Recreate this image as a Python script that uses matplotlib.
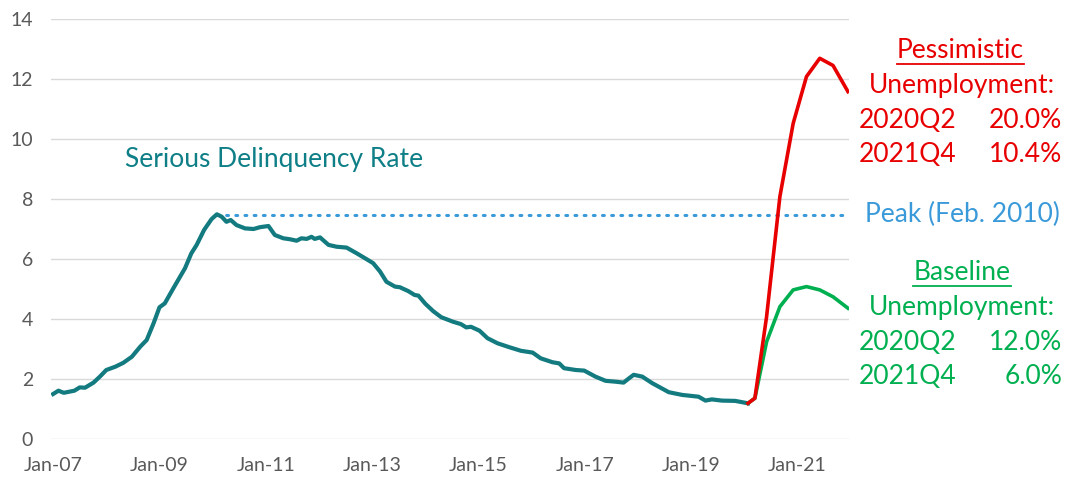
import matplotlib
matplotlib.use("Agg")
import matplotlib.pyplot as plt
from matplotlib.lines import Line2D

plt.rcParams['font.family'] = ['Lato', 'DejaVu Sans']

# serious delinquency rate (%), x in decimal years
hist_x = [2007.00, 2007.10, 2007.20, 2007.40, 2007.50, 2007.60, 2007.76, 2007.88,
          2008.00, 2008.17, 2008.32, 2008.48, 2008.64, 2008.76, 2008.89, 2009.00,
          2009.10, 2009.26, 2009.48, 2009.60, 2009.70, 2009.84, 2009.98, 2010.08,
          2010.17, 2010.26, 2010.34, 2010.45, 2010.61, 2010.77, 2010.89, 2011.05,
          2011.17, 2011.33, 2011.45, 2011.58, 2011.67, 2011.77, 2011.86, 2011.92,
          2012.02, 2012.18, 2012.33, 2012.52, 2012.71, 2012.90, 2013.02, 2013.15,
          2013.27, 2013.43, 2013.52, 2013.68, 2013.80, 2013.87, 2014.00, 2014.15,
          2014.30, 2014.52, 2014.67, 2014.77, 2014.86, 2015.02, 2015.17, 2015.36,
          2015.58, 2015.80, 2016.02, 2016.17, 2016.39, 2016.52, 2016.61, 2016.83,
          2016.99, 2017.20, 2017.39, 2017.58, 2017.73, 2017.83, 2017.92, 2018.08,
          2018.27, 2018.58, 2018.83, 2019.14, 2019.27, 2019.39, 2019.58, 2019.83,
          2020.07]
hist_y = [1.50, 1.61, 1.54, 1.61, 1.72, 1.71, 1.88, 2.08,
          2.30, 2.41, 2.54, 2.74, 3.08, 3.30, 3.86, 4.39,
          4.52, 5.02, 5.69, 6.19, 6.47, 6.97, 7.33, 7.49,
          7.41, 7.24, 7.30, 7.13, 7.02, 7.00, 7.06, 7.10,
          6.80, 6.69, 6.66, 6.61, 6.69, 6.67, 6.74, 6.67,
          6.72, 6.47, 6.41, 6.38, 6.19, 5.99, 5.86, 5.58,
          5.24, 5.08, 5.06, 4.93, 4.80, 4.78, 4.51, 4.26,
          4.06, 3.91, 3.83, 3.72, 3.74, 3.61, 3.36, 3.19,
          3.06, 2.94, 2.88, 2.69, 2.56, 2.52, 2.36, 2.30,
          2.28, 2.08, 1.94, 1.91, 1.88, 2.02, 2.14, 2.08,
          1.86, 1.56, 1.47, 1.41, 1.28, 1.32, 1.28, 1.27,
          1.19]

# projections (quarterly)
proj_x = [2020.07, 2020.20, 2020.42, 2020.67, 2020.92, 2021.17, 2021.42, 2021.67, 2021.95]
pess_y = [1.19, 1.36, 4.08, 8.08, 10.52, 12.08, 12.69, 12.45, 11.58]
base_y = [1.19, 1.36, 3.24, 4.41, 4.97, 5.08, 4.97, 4.74, 4.36]

peak_x = [2010.08, 2021.97]
peak_y = [7.47, 7.47]

tick_years = [2007, 2009, 2011, 2013, 2015, 2017, 2019, 2021]
tick_labels = ['Jan-07', 'Jan-09', 'Jan-11', 'Jan-13', 'Jan-15', 'Jan-17', 'Jan-19', 'Jan-21']

TEAL = '#137B80'
RED = '#E80000'
GREEN = '#00B050'
BLUE = '#3A9AD9'
GREY = '#595959'

W, H = 1066, 479
fig = plt.figure(figsize=(W / 100, H / 100), dpi=100)
ax = fig.add_axes([51 / W, 1 - 439 / H, 798 / W, 420 / H])

ax.plot(peak_x, peak_y, color=BLUE, lw=2.2, linestyle=(0, (0.6, 2.4)), dash_capstyle='round')
ax.plot(hist_x, hist_y, color=TEAL, lw=3.0, solid_joinstyle='round')
ax.plot(proj_x, base_y, color=GREEN, lw=2.6, solid_joinstyle='round')
ax.plot(proj_x, pess_y, color=RED, lw=2.6, solid_joinstyle='round')

ax.set_xlim(2006.96, 2021.97)
ax.set_ylim(0, 14)
ax.set_yticks(range(0, 15, 2))
ax.set_xticks(tick_years)
ax.set_xticklabels(tick_labels)
ax.tick_params(length=0, labelsize=14, colors=GREY)
ax.tick_params(axis='x', pad=13)
ax.tick_params(axis='y', pad=13)
ax.grid(axis='y', color='#D9D9D9', lw=1)
ax.set_axisbelow(True)
for s in ax.spines.values():
    s.set_visible(False)

ax.text(2008.36, 9.3, 'Serious Delinquency Rate', color='#0E7F87', fontsize=19, va='center')

# right side annotations (pixel positions)
def ftext(px, py, s, color, ha='center'):
    fig.text(px / W, 1 - py / H, s, color=color, fontsize=19, ha=ha, va='center')

def uline(x0, x1, py, color):
    fig.add_artist(Line2D([x0 / W, x1 / W], [1 - py / H, 1 - py / H], color=color, lw=1.3,
                          transform=fig.transFigure))

ftext(960, 50, 'Pessimistic', RED)
uline(897, 1024, 64, RED)
ftext(962, 85, 'Unemployment:', RED)
ftext(859, 120, '2020Q2', RED, 'left')
ftext(1062, 120, '20.0%', RED, 'right')
ftext(859, 154, '2021Q4', RED, 'left')
ftext(1062, 154, '10.4%', RED, 'right')

ftext(962, 214, 'Peak (Feb. 2010)', BLUE)

ftext(962, 272, 'Baseline', GREEN)
uline(913, 1011, 286, GREEN)
ftext(962, 308, 'Unemployment:', GREEN)
ftext(859, 342, '2020Q2', GREEN, 'left')
ftext(1062, 342, '12.0%', GREEN, 'right')
ftext(859, 377, '2021Q4', GREEN, 'left')
ftext(1062, 377, '6.0%', GREEN, 'right')

fig.savefig('out.png', dpi=100)
